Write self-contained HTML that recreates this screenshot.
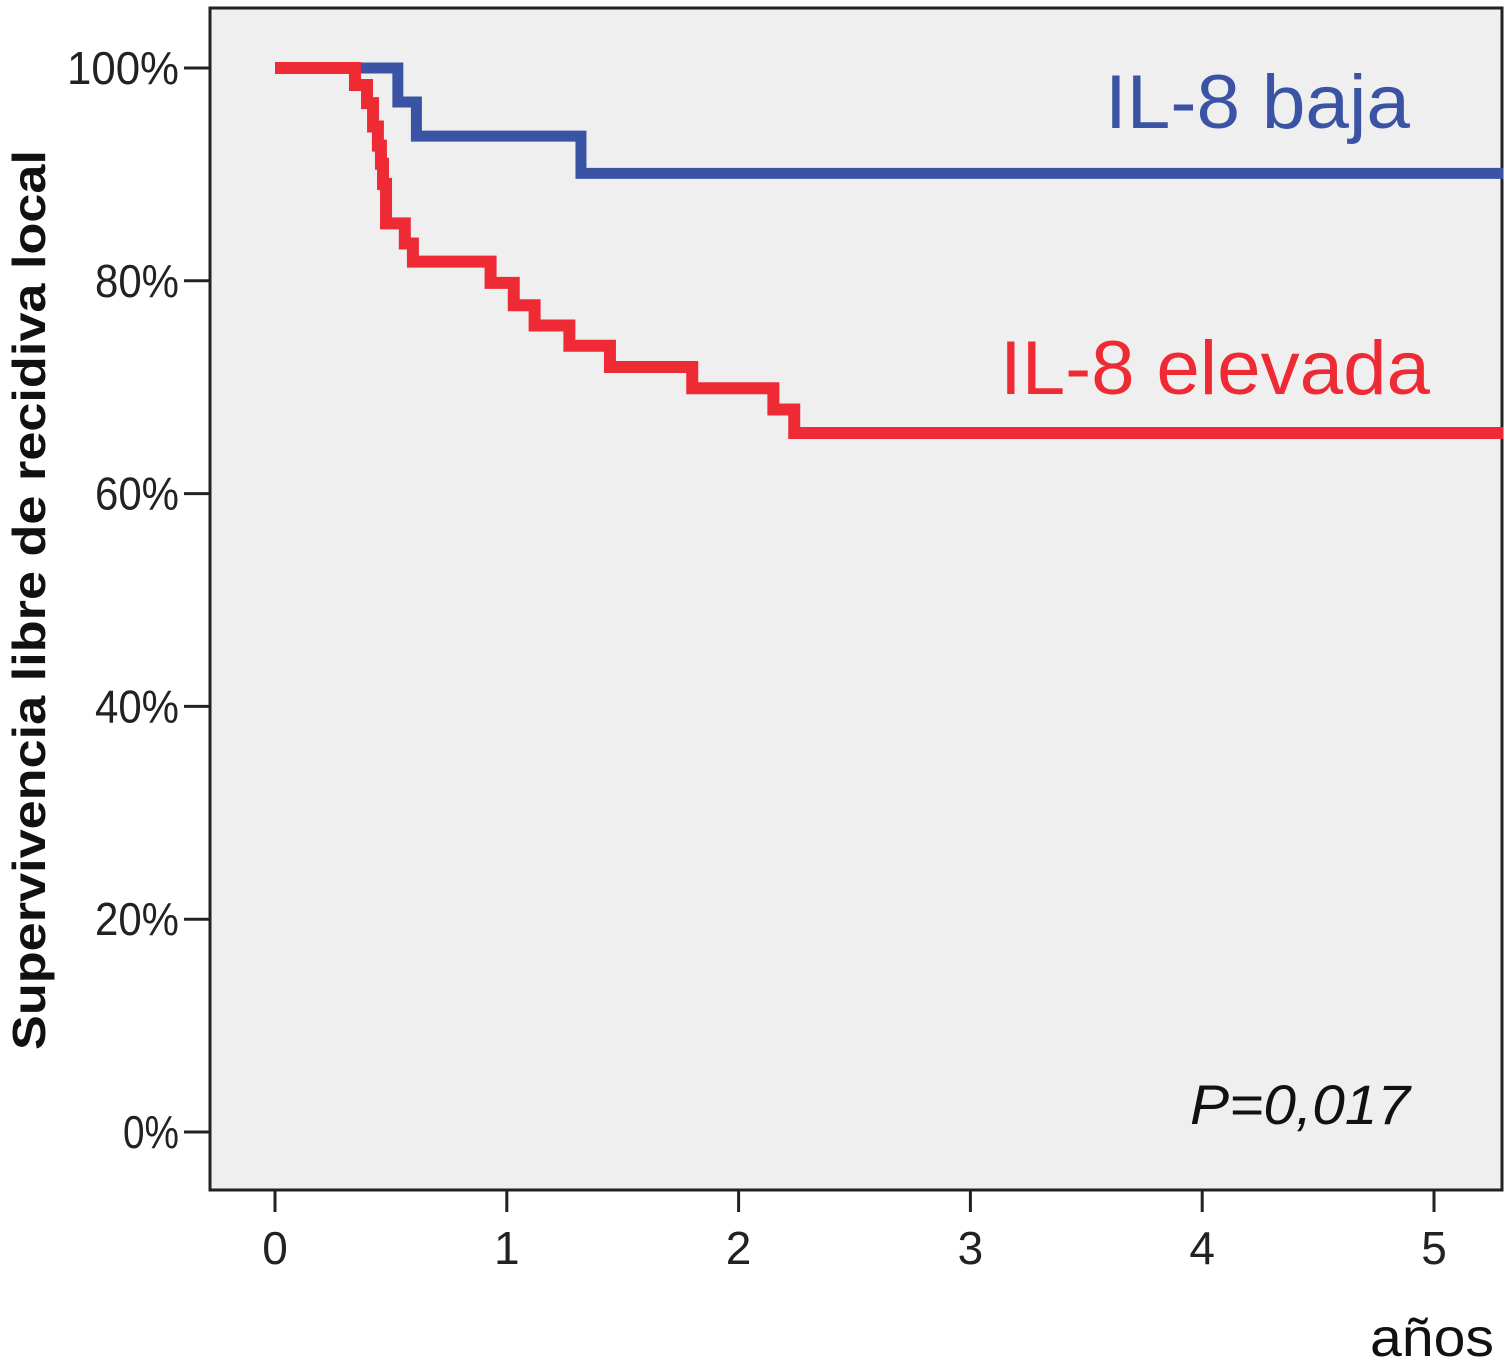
<!DOCTYPE html>
<html><head><meta charset="utf-8"><style>
html,body{margin:0;padding:0;background:#fff;}
svg{display:block;}
</style></head><body>
<svg id="chart" width="1508" height="1365" viewBox="0 0 1508 1365" xmlns="http://www.w3.org/2000/svg">
<rect x="210" y="8" width="1292" height="1182" fill="#efefef" stroke="#222" stroke-width="3"/>
<g id="yticks"></g><g id="xticks"></g><g id="series"></g>
<text transform="translate(45,600) rotate(-90)" text-anchor="middle" font-family="Liberation Sans, sans-serif" font-weight="bold" font-size="46" fill="#111" textLength="900" lengthAdjust="spacingAndGlyphs">Supervivencia libre de recidiva local</text>
<text x="1494" y="1356" text-anchor="end" font-family="Liberation Sans, sans-serif" font-size="54" fill="#111" textLength="124" lengthAdjust="spacingAndGlyphs">años</text>
<text x="1410" y="128" text-anchor="end" font-family="Liberation Sans, sans-serif" font-size="76" fill="#3a53a4" textLength="305" lengthAdjust="spacingAndGlyphs">IL-8 baja</text>
<text x="1430" y="394" text-anchor="end" font-family="Liberation Sans, sans-serif" font-size="76" fill="#ee2b35" textLength="430" lengthAdjust="spacingAndGlyphs">IL-8 elevada</text>
<text x="1410" y="1124" text-anchor="end" font-family="Liberation Sans, sans-serif" font-style="italic" font-size="56" fill="#111" textLength="220" lengthAdjust="spacingAndGlyphs">P=0,017</text>
</svg>
<script>
const yTicks=[0,20,40,60,80,100];
const yTickLabels=["0%","20%","40%","60%","80%","100%"];
const xTicks=[0,1,2,3,4,5];
const bajaTimes=[0,0.53,0.61,1.32,5.3];
const bajaValues=[100,96.8,93.6,90.1,90.1];
const elevTimes=[0,0.345,0.397,0.423,0.444,0.457,0.466,0.479,0.56,0.595,0.93,1.03,1.12,1.27,1.445,1.8,2.15,2.24,5.3];
const elevValues=[100,98.4,96.7,94.5,92.7,91.0,89.1,85.4,83.5,81.8,79.8,77.7,75.8,73.9,71.9,69.9,67.9,65.7,65.7];
const NS="http://www.w3.org/2000/svg";
const xs=t=>275+t*231.8;
const ys=p=>1132-p*10.64;
function mk(tag,attrs,parent){const e=document.createElementNS(NS,tag);for(const k in attrs)e.setAttribute(k,attrs[k]);parent.appendChild(e);return e;}
const yg=document.getElementById('yticks');
yTicks.forEach((v,i)=>{
 const l=mk('line',{x1:184,x2:210,y1:ys(v),y2:ys(v),stroke:'#222','stroke-width':3},yg);
 
 
 const t=mk('text',{x:179,y:ys(v)+16,'text-anchor':'end','font-family':'Liberation Sans, sans-serif','font-size':46,fill:'#222',textLength:yTickLabels[i].length*28,lengthAdjust:'spacingAndGlyphs'},yg);
 t.textContent=yTickLabels[i];
 
 
});
const xg=document.getElementById('xticks');
xTicks.forEach(v=>{
 const l=mk('line',{x1:xs(v),x2:xs(v),y1:1190,y2:1212,stroke:'#222','stroke-width':3},xg);
 
 
 const t=mk('text',{x:xs(v),y:1264,'text-anchor':'middle','font-family':'Liberation Sans, sans-serif','font-size':46,fill:'#222'},xg);
 t.textContent=String(v);
 
 
});
function stepPath(ts,vs){let d='M'+xs(ts[0])+' '+ys(vs[0]);for(let i=1;i<ts.length;i++){d+=' H'+xs(ts[i])+' V'+ys(vs[i]);}return d;}
const sg=document.getElementById('series');
const pb=mk('path',{d:stepPath(bajaTimes,bajaValues),fill:'none',stroke:'#3a53a4','stroke-width':11},sg);


const pe=mk('path',{d:stepPath(elevTimes,elevValues),fill:'none',stroke:'#ee2b35','stroke-width':12},sg);


</script>
</body></html>
